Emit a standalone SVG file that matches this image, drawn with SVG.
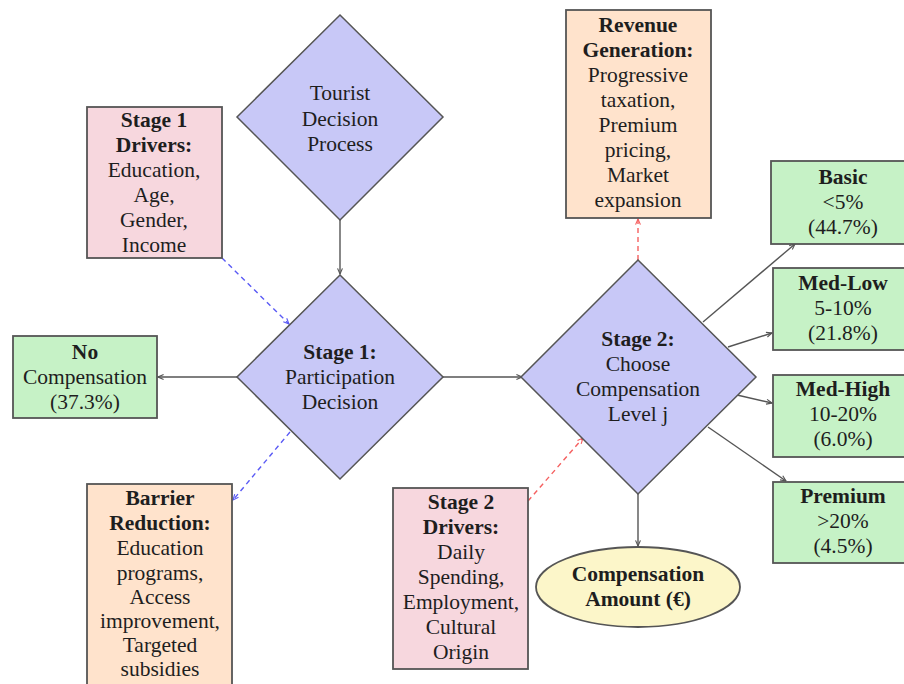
<svg xmlns="http://www.w3.org/2000/svg" width="904" height="684" viewBox="0 0 904 684">
<defs>
<style>
text{font-family:"Liberation Serif","Times New Roman",serif;font-size:21.5px;fill:#1e1e1e;text-anchor:middle}
.b{font-weight:bold}
.dia{fill:#c8c8f7;stroke:#555;stroke-width:1.5}
.pink{fill:#f7d7de;stroke:#555;stroke-width:1.8}
.orange{fill:#ffe3cc;stroke:#555;stroke-width:1.8}
.green{fill:#c6f2c6;stroke:#555;stroke-width:1.8}
.yellow{fill:#fcf6c9;stroke:#555;stroke-width:1.8}
.c{fill:none;stroke:#555;stroke-width:1.4}
.blue{fill:none;stroke:#5a5af5;stroke-width:1.4;stroke-dasharray:5 4}
.red{fill:none;stroke:#f56060;stroke-width:1.4;stroke-dasharray:5 4}
</style>
<marker id="ag" viewBox="0 0 10 10" refX="9" refY="5" markerWidth="7" markerHeight="7" orient="auto" markerUnits="userSpaceOnUse"><path d="M1,1.5 L9,5 L1,8.5" fill="none" stroke="#555" stroke-width="1.6"/></marker>
<marker id="ab" viewBox="0 0 10 10" refX="9" refY="5" markerWidth="7" markerHeight="7" orient="auto" markerUnits="userSpaceOnUse"><path d="M1,1.5 L9,5 L1,8.5" fill="none" stroke="#5a5af5" stroke-width="1.6"/></marker>
<marker id="ar" viewBox="0 0 10 10" refX="9" refY="5" markerWidth="7" markerHeight="7" orient="auto" markerUnits="userSpaceOnUse"><path d="M1,1.5 L9,5 L1,8.5" fill="none" stroke="#f56060" stroke-width="1.6"/></marker>
</defs>
<rect width="904" height="684" fill="#fff"/>

<g id="connectors">
<line class="c" x1="340" y1="220" x2="340" y2="274" marker-end="url(#ag)"/>
<line class="c" x1="237" y1="377" x2="158" y2="377" marker-end="url(#ag)"/>
<line class="c" x1="443" y1="377" x2="522" y2="377" marker-end="url(#ag)"/>
<line class="c" x1="638" y1="494" x2="638" y2="546" marker-end="url(#ag)"/>
<line class="c" x1="703" y1="322" x2="795" y2="244" marker-end="url(#ag)"/>
<line class="c" x1="728" y1="347" x2="772" y2="333" marker-end="url(#ag)"/>
<line class="c" x1="737" y1="395" x2="772" y2="403" marker-end="url(#ag)"/>
<line class="c" x1="708" y1="427" x2="786" y2="481" marker-end="url(#ag)"/>
<line class="blue" x1="222" y1="258" x2="289" y2="324" marker-end="url(#ab)"/>
<line class="blue" x1="290" y1="432" x2="233" y2="500" marker-end="url(#ab)"/>
<line class="red" x1="638" y1="260" x2="638" y2="219" marker-end="url(#ar)"/>
<line class="red" x1="528" y1="501" x2="583" y2="438" marker-end="url(#ar)"/>
</g>

<g id="tourist">
<polygon class="dia" points="340,15 443,117 340,220 237,117"/>
<text x="340" y="100">Tourist</text>
<text x="340" y="126">Decision</text>
<text x="340" y="151">Process</text>
</g>

<g id="stage1-drivers">
<rect class="pink" x="87" y="107" width="135" height="151"/>
<text class="b" x="154" y="127">Stage 1</text>
<text class="b" x="154" y="152">Drivers:</text>
<text x="154" y="177">Education,</text>
<text x="154" y="202">Age,</text>
<text x="154" y="227">Gender,</text>
<text x="154" y="252">Income</text>
</g>

<g id="stage1">
<polygon class="dia" points="340,275 443,377 340,479 237,377"/>
<text class="b" x="340" y="359">Stage 1:</text>
<text x="340" y="384">Participation</text>
<text x="340" y="409">Decision</text>
</g>

<g id="no-compensation">
<rect class="green" x="13" y="336" width="144" height="82"/>
<text class="b" x="85" y="359">No</text>
<text x="85" y="384">Compensation</text>
<text x="85" y="409">(37.3%)</text>
</g>

<g id="barrier">
<rect class="orange" x="87" y="484" width="145" height="210"/>
<text class="b" x="160" y="505">Barrier</text>
<text class="b" x="160" y="530">Reduction:</text>
<text x="160" y="555">Education</text>
<text x="160" y="580">programs,</text>
<text x="160" y="604">Access</text>
<text x="160" y="628">improvement,</text>
<text x="160" y="652">Targeted</text>
<text x="160" y="676">subsidies</text>
</g>

<g id="stage2">
<polygon class="dia" points="638,260 756,377 638,494 521,377"/>
<text class="b" x="638" y="346">Stage 2:</text>
<text x="638" y="371">Choose</text>
<text x="638" y="396">Compensation</text>
<text x="638" y="421">Level j</text>
</g>

<g id="revenue">
<rect class="orange" x="566" y="10" width="145" height="208"/>
<text class="b" x="638" y="32">Revenue</text>
<text class="b" x="638" y="57">Generation:</text>
<text x="638" y="82">Progressive</text>
<text x="638" y="107">taxation,</text>
<text x="638" y="132">Premium</text>
<text x="638" y="157">pricing,</text>
<text x="638" y="182">Market</text>
<text x="638" y="207">expansion</text>
</g>

<g id="basic">
<rect class="green" x="771" y="161" width="144" height="83"/>
<text class="b" x="843" y="184">Basic</text>
<text x="843" y="209">&lt;5%</text>
<text x="843" y="234">(44.7%)</text>
</g>

<g id="med-low">
<rect class="green" x="773" y="268" width="144" height="82"/>
<text class="b" x="843" y="290">Med-Low</text>
<text x="843" y="315">5-10%</text>
<text x="843" y="340">(21.8%)</text>
</g>

<g id="med-high">
<rect class="green" x="773" y="375" width="144" height="82"/>
<text class="b" x="843" y="396">Med-High</text>
<text x="843" y="421">10-20%</text>
<text x="843" y="446">(6.0%)</text>
</g>

<g id="premium">
<rect class="green" x="773" y="482" width="144" height="81"/>
<text class="b" x="843" y="503">Premium</text>
<text x="843" y="528">&gt;20%</text>
<text x="843" y="553">(4.5%)</text>
</g>

<g id="stage2-drivers">
<rect class="pink" x="393" y="488" width="135" height="181"/>
<text class="b" x="461" y="509">Stage 2</text>
<text class="b" x="461" y="534">Drivers:</text>
<text x="461" y="559">Daily</text>
<text x="461" y="584">Spending,</text>
<text x="461" y="609">Employment,</text>
<text x="461" y="634">Cultural</text>
<text x="461" y="659">Origin</text>
</g>

<g id="amount">
<ellipse class="yellow" cx="638" cy="587" rx="102" ry="40"/>
<text class="b" x="638" y="581">Compensation</text>
<text class="b" x="638" y="606">Amount (€)</text>
</g>
</svg>
